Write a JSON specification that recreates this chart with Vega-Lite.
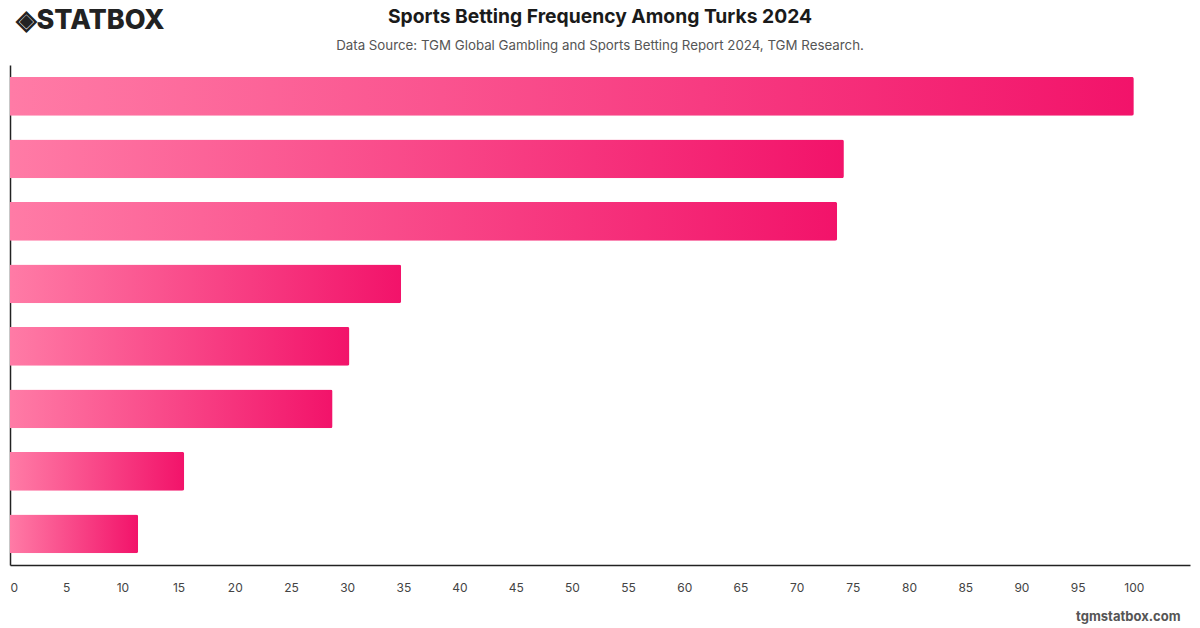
{
  "$schema": "https://vega.github.io/schema/vega-lite/v6.json",
  "width": 1180,
  "height": 500,
  "autosize": {"type": "none"},
  "padding": {"left": 10, "top": 65, "right": 10, "bottom": 63},
  "background": "#ffffff",
  "config": {
    "font": "Inter",
    "view": {"stroke": null}
  },
  "title": {
    "text": "Sports Betting Frequency Among Turks 2024",
    "subtitle": "Data Source: TGM Global Gambling and Sports Betting Report 2024, TGM Research.",
    "anchor": "middle",
    "frame": "group",
    "font": "Inter",
    "fontSize": 19.3,
    "fontWeight": 700,
    "color": "#1a1a1a",
    "subtitleFont": "Inter",
    "subtitleFontSize": 13.3,
    "subtitleColor": "#555555",
    "subtitlePadding": 11,
    "offset": 14,
    "dy": 60
  },
  "data": {
    "values": [
      {"group": "Category 1", "share": 100},
      {"group": "Category 2", "share": 74.2},
      {"group": "Category 3", "share": 73.6},
      {"group": "Category 4", "share": 34.8},
      {"group": "Category 5", "share": 30.2},
      {"group": "Category 6", "share": 28.7},
      {"group": "Category 7", "share": 15.5},
      {"group": "Category 8", "share": 11.4}
    ]
  },
  "mark": {
    "type": "bar",
    "cornerRadiusEnd": 2,
    "color": {
      "gradient": "linear",
      "x1": 0, "y1": 0, "x2": 1, "y2": 0,
      "stops": [
        {"offset": 0, "color": "#ff7ba6"},
        {"offset": 1, "color": "#f2136a"}
      ]
    }
  },
  "encoding": {
    "y": {
      "field": "group",
      "type": "nominal",
      "sort": null,
      "scale": {"paddingInner": 0.38, "paddingOuter": 0.19},
      "axis": {
        "title": "◈STATBOX",
        "titleAngle": 0,
        "titleX": 5,
        "titleY": -45,
        "titleAlign": "left",
        "titleBaseline": "middle",
        "titleFont": "Inter",
        "titleFontSize": 27,
        "titleFontWeight": 800,
        "titleColor": "#222222",
        "labels": false,
        "ticks": false,
        "domainColor": "#222222",
        "domainWidth": 1.5
      }
    },
    "x": {
      "field": "share",
      "type": "quantitative",
      "scale": {"domain": [0, 105], "nice": false},
      "axis": {
        "values": [0, 5, 10, 15, 20, 25, 30, 35, 40, 45, 50, 55, 60, 65, 70, 75, 80, 85, 90, 95, 100],
        "grid": false,
        "ticks": false,
        "labelPadding": 17,
        "labelFont": "Inter",
        "labelFontSize": 12,
        "labelColor": "#444444",
        "domainColor": "#222222",
        "domainWidth": 1.5,
        "title": "tgmstatbox.com",
        "titleAnchor": "end",
        "titleAlign": "right",
        "titleX": 1170,
        "titleY": 51,
        "titleBaseline": "middle",
        "titleFont": "Inter",
        "titleFontSize": 13,
        "titleFontWeight": 700,
        "titleColor": "#555555"
      }
    }
  }
}
